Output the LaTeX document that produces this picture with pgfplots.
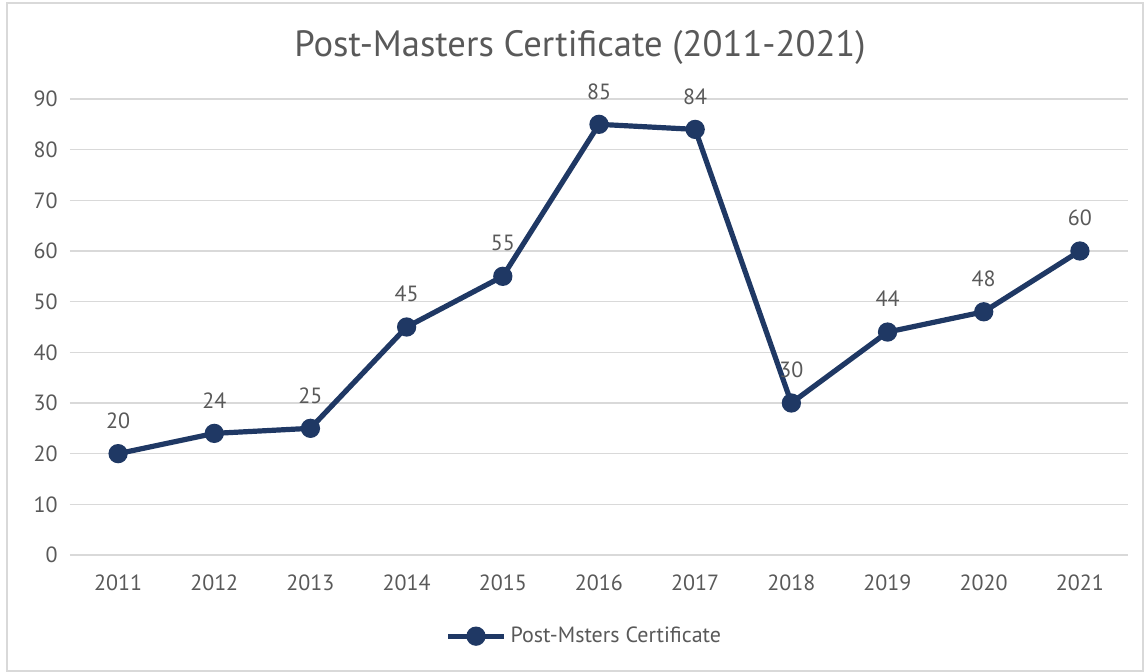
\documentclass[border=0pt]{standalone}
\usepackage{fontspec}
\setmainfont{PT Sans}
\usepackage{pgfplots}
\pgfplotsset{compat=1.18}
\definecolor{Navy}{HTML}{1F3864}
\definecolor{Ink}{HTML}{595959}
\definecolor{Grid}{HTML}{D9D9D9}

\begin{document}
\begin{tikzpicture}
  % page is 1145x672 px, drawn at 0.5pt per px
  \useasboundingbox (0pt,0pt) rectangle (572.5pt,336pt);
  \draw[Grid, line width=1pt] (3.5pt,0.5pt) rectangle (571.5pt,334.5pt);
  \node[font=\fontsize{18.3}{22}\selectfont, text=Ink] at (290pt,312pt)
    {Post-Masters Certificate (2011-2021)};
  \begin{axis}[
      at={(35pt,58.5pt)}, anchor=south west,
      scale only axis, width=529pt, height=228pt,
      xmin=2010.5, xmax=2021.5, ymin=0, ymax=90,
      xtick={2011,2012,...,2021},
      ytick={0,10,...,90},
      /pgf/number format/assume math mode=true,
      /pgf/number format/1000 sep={},
      tick label style={font=\fontsize{11}{13}\selectfont, text=Ink},
      xticklabel style={anchor=center, yshift=-14pt},
      yticklabel style={anchor=east, inner sep=0pt, xshift=-6pt},
      axis line style={draw=none},
      major tick length=0pt,
      ymajorgrids=true,
      major grid style={draw=Grid, line width=0.75pt},
      clip=false,
      nodes near coords,
      nodes near coords style={anchor=center, yshift=16.5pt,
        font=\fontsize{11}{13}\selectfont, text=Ink},
      legend style={at={(0.487,-0.178)}, anchor=center, draw=none, fill=none,
        font=\fontsize{11}{13}\selectfont, text=Ink},
      legend image code/.code={
        \draw[#1, mark repeat=2, mark phase=2] plot coordinates {(0pt,0pt) (14pt,0pt) (28pt,0pt)};
      },
    ]
    \addplot[color=Navy, line width=2.6pt, mark=*, mark size=3.5pt,
      mark options={solid}]
      coordinates {(2011,20)(2012,24)(2013,25)(2014,45)(2015,55)(2016,85)
                   (2017,84)(2018,30)(2019,44)(2020,48)(2021,60)};
    \addlegendentry{Post-Msters Certificate}
  \end{axis}
\end{tikzpicture}
\end{document}
